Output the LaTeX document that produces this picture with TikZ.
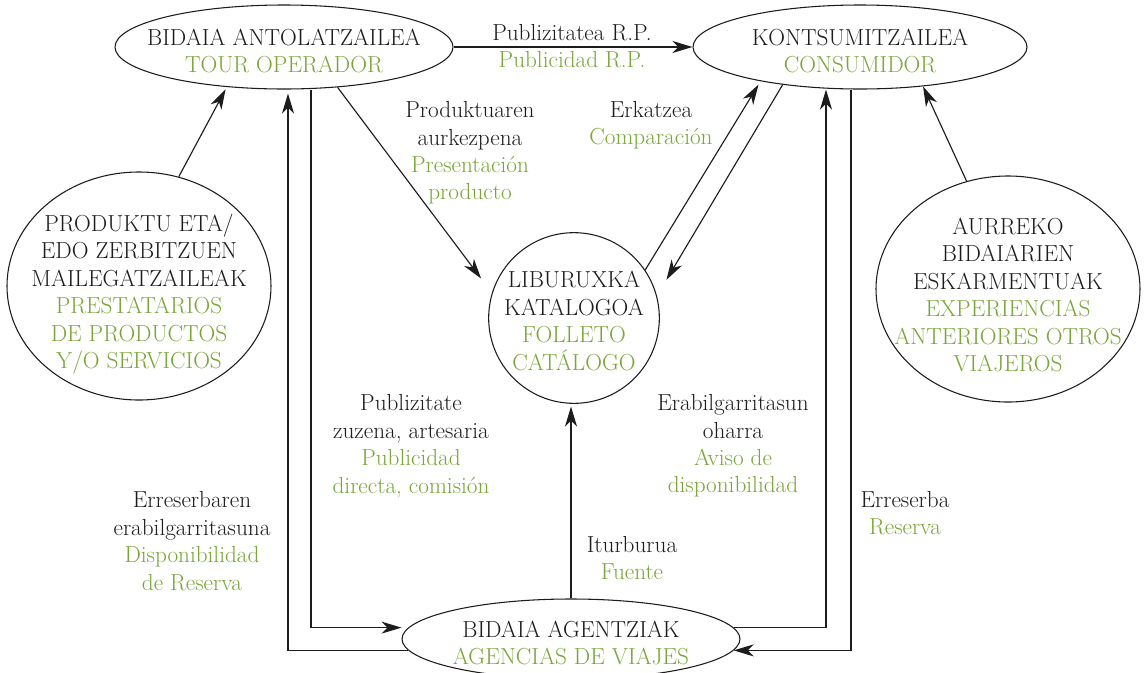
\documentclass[tikz,border=0pt]{standalone}
\usetikzlibrary{arrows.meta,shapes.geometric}
\definecolor{grn}{RGB}{122,165,56}
\definecolor{ink}{RGB}{30,27,28}
\begin{document}
\begin{tikzpicture}[x=0.75pt,y=-0.75pt,
  oval/.style={draw=ink, line width=0.8pt, ellipse, inner sep=0pt},
  txt/.style={align=center, inner sep=0pt, text=ink, font=\fontsize{17.4}{20.6}\selectfont},
  arr/.style={draw=ink, line width=0.85pt, -{Stealth[length=15pt,width=9pt,inset=4.5pt]}}]
\useasboundingbox (0,0) rectangle (1147,672);
\clip (0,0) rectangle (1147,672);
\fill[white] (0,0) rectangle (1147,672);
% shapes
\node[oval, minimum width=253.5pt, minimum height=63pt] (TO) at (284,47) {};
\node[oval, minimum width=250.5pt, minimum height=63pt] (KO) at (860,47) {};
\node[oval, minimum width=198pt, minimum height=171pt] (PR) at (139,286) {};
\node[oval, minimum width=198pt, minimum height=169.5pt] (AU) at (1008,289) {};
\node[oval, minimum width=128pt, minimum height=128pt] (LI) at (574,318) {};
\node[oval, minimum width=253.5pt, minimum height=60pt] (AG) at (571,639) {};
% node texts
\node[txt] (TOt) at (284,51) {BIDAIA ANTOLATZAILEA\\\textcolor{grn}{TOUR OPERADOR}};
\node[txt] (KOt) at (860,51) {KONTSUMITZAILEA\\\textcolor{grn}{CONSUMIDOR}};
\node[txt] (PRt) at (139,294) {PRODUKTU ETA/\\EDO ZERBITZUEN\\MAILEGATZAILEAK\\\textcolor{grn}{PRESTATARIOS}\\\textcolor{grn}{DE PRODUCTOS}\\\textcolor{grn}{Y/O SERVICIOS}};
\node[txt] (AUt) at (1008,295) {AURREKO\\BIDAIARIEN\\ESKARMENTUAK\\\textcolor{grn}{EXPERIENCIAS}\\\textcolor{grn}{ANTERIORES OTROS}\\\textcolor{grn}{VIAJEROS}};
\node[txt] (LIt) at (574,321) {LIBURUXKA\\KATALOGOA\\\textcolor{grn}{FOLLETO}\\\textcolor{grn}{CATÁLOGO}};
\node[txt] (AGt) at (571,643) {BIDAIA AGENTZIAK\\\textcolor{grn}{AGENCIAS DE VIAJES}};
% connector labels
\node[txt] (l1) at (572,46) {Publizitatea R.P.\\\textcolor{grn}{Publicidad R.P.}};
\node[txt] (l2) at (470,153) {Produktuaren\\aurkezpena\\\textcolor{grn}{Presentación}\\\textcolor{grn}{producto}};
\node[txt] (l3) at (651,125) {Erkatzea\\\textcolor{grn}{Comparación}};
\node[txt] (l4) at (411,446) {Publizitate\\zuzena, artesaria\\\textcolor{grn}{Publicidad}\\\textcolor{grn}{directa, comisión}};
\node[txt] (l5) at (733,446) {Erabilgarritasun\\oharra\\\textcolor{grn}{Aviso de}\\\textcolor{grn}{disponibilidad}};
\node[txt] (l6) at (192,541) {Erreserbaren\\erabilgarritasuna\\\textcolor{grn}{Disponibilidad}\\\textcolor{grn}{de Reserva}};
\node[txt] (l7) at (905,513) {Erreserba\\\textcolor{grn}{Reserva}};
\node[txt] (l8) at (632,558) {Iturburua\\\textcolor{grn}{Fuente}};
% helper x positions
\coordinate (xa) at (288,0);
\coordinate (xb) at (311,0);
\coordinate (xc) at (826,0);
\coordinate (xd) at (851,0);
% connectors
\draw[arr] (TO.east) -- (KO.west);
\draw[arr, shorten >=2pt] (PR.70) -- (TO.215);
\draw[arr] (AU.111) -- (KO.-32);
\draw[arr, shorten >=13.5pt] (TO.-37) -- (LI.163);
\draw[arr, shorten >=3pt] (LI.34) -- (KO.199);
\draw[arr, shorten >=14pt] (KO.206) -- (LI.15);
\draw[arr, shorten >=2pt] (AG.north) -- (AG.north |- LI.south);
\draw[arr] (TO.south -| xb) -- (xb |- AG.176) -- (AG.west |- AG.176);
\draw[arr, shorten >=3pt] (AG.184) -- (AG.184 -| xa) -- (TO.south -| xa);
\draw[arr] (AG.4) -- (AG.4 -| xc) -- (KO.south -| xc);
\draw[arr] (KO.south -| xd) -- (xd |- AG.-4) -- (AG.-4);
\end{tikzpicture}
\end{document}
